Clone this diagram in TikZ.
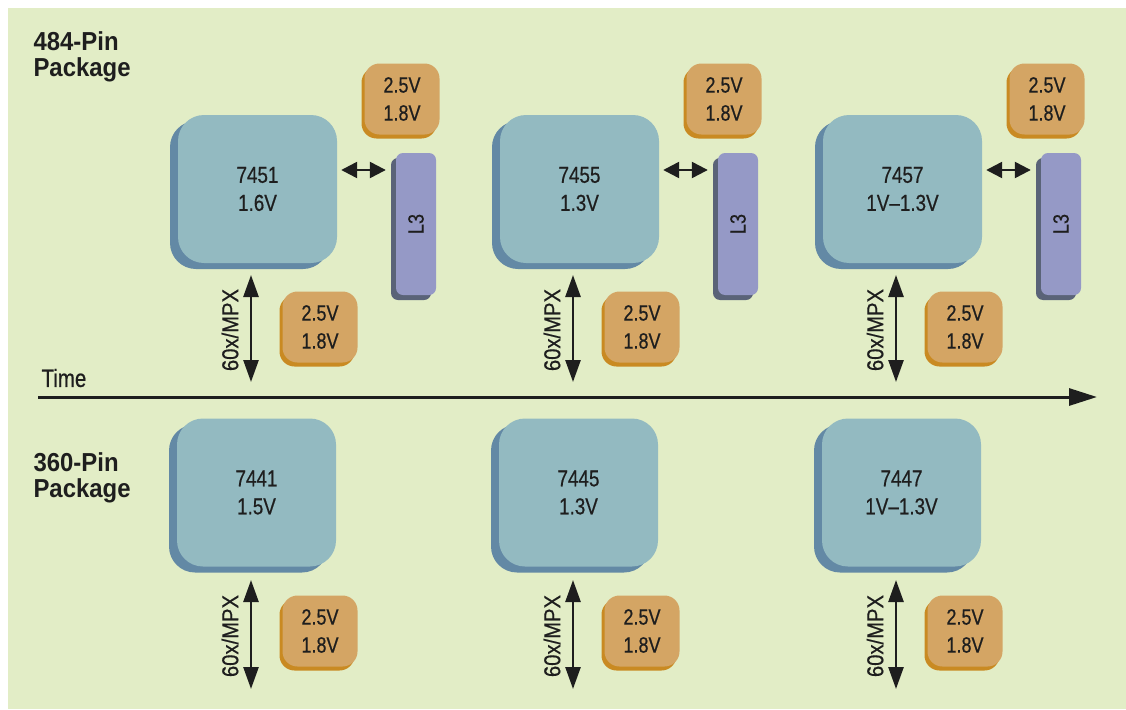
\documentclass[tikz,border=0pt]{standalone}
\usepackage{fontspec}
\setmainfont{Liberation Sans}[FakeStretch=0.82,FakeBold=0.5]
\newfontfamily\labelfont{Liberation Sans}[FakeStretch=0.92]
\newfontfamily\mpxfont{Liberation Sans}[FakeStretch=0.88,FakeBold=0.5]
\usetikzlibrary{arrows.meta,shadows}
\definecolor{bg}{HTML}{E2EDC6}
\definecolor{chipface}{HTML}{93BAC1}
\definecolor{chipshadow}{HTML}{6389A5}
\definecolor{volface}{HTML}{D4A564}
\definecolor{volshadow}{HTML}{C98A22}
\definecolor{lface}{HTML}{9599C6}
\definecolor{lshadow}{HTML}{5A6378}
\definecolor{ink}{HTML}{1E1E1E}
\begin{document}
\begin{tikzpicture}[x=1pt,y=-1pt,
  chip/.style={rectangle, rounded corners=26pt, fill=chipface,
    minimum width=159pt, minimum height=148pt, inner sep=0pt,
    align=center, text=ink, font=\fontsize{23}{28}\selectfont,
    general shadow={fill=chipshadow, shadow xshift=-8pt, shadow yshift=-6pt}},
  volt/.style={rectangle, rounded corners=15pt, fill=volface,
    minimum width=75pt, minimum height=71pt, inner sep=0pt,
    align=center, text=ink, font=\fontsize{22}{28}\selectfont,
    general shadow={fill=volshadow, shadow xshift=-3pt, shadow yshift=-4pt}},
  cache/.style={rectangle, rounded corners=7pt, fill=lface,
    minimum width=40pt, minimum height=142pt, inner sep=0pt,
    general shadow={fill=lshadow, shadow xshift=-5pt, shadow yshift=-5pt}},
  ltext/.style={rotate=90, text=ink, font=\fontsize{22}{24}\selectfont},
  varrow/.style={line width=2.6pt, draw=ink,
    {Triangle[width=15pt,length=22pt]}-{Triangle[width=15pt,length=22pt]}},
  harrow/.style={line width=2.4pt, draw=ink,
    {Triangle[width=16pt,length=16pt]}-{Triangle[width=16pt,length=16pt]}},
  taxis/.style={line width=3pt, draw=ink, -{Triangle[width=17pt,length=28pt]}},
  pkg/.style={anchor=west, align=left, text=ink,
    font=\labelfont\bfseries\fontsize{26}{26}\selectfont},
  mpx/.style={rotate=90, text=ink, font=\mpxfont\fontsize{23}{24}\selectfont},
]
\useasboundingbox (0,0) rectangle (1126,709);
\fill[bg] (8,8) rectangle (1126,709);

% package labels
\node[pkg] (p484) at (30,57) {484-Pin\\Package};
\node[pkg] (p360) at (30,478) {360-Pin\\Package};

% time axis
\coordinate (t0) at (38,397);
\coordinate (t1) at (1097,397);
\draw[taxis] (t0) -- (t1);
\node[text=ink, font=\fontsize{25}{26}\selectfont, anchor=west] (time) at (38,378) {Time};

\foreach \i/\dx/\topn/\topv/\botn/\botv in
  {1/0/7451/1.6V/7441/1.5V, 2/322/7455/1.3V/7445/1.3V, 3/645/7457/1V--1.3V/7447/1V--1.3V}{
  % top row
  \node[chip] (c\i) at (257.5+\dx,189) {\topn\\\topv};
  \node[cache] (l\i) at (416+\dx,224) {};
  \node[ltext] (lt\i) at (l\i) {L3};
  \node[volt] (vt\i) at (402+\dx,99) {2.5V\\1.8V};
  \node[volt] (vb\i) at (320+\dx,327) {2.5V\\1.8V};
  \draw[harrow] ([xshift=4pt,yshift=19pt]c\i.east) -- ([xshift=-10pt,yshift=19pt]c\i.east -| l\i.west);
  \coordinate (mt\i) at (251+\dx,275);
  \coordinate (mb\i) at (251+\dx,382);
  \draw[varrow] (mt\i) -- (mb\i);
  \node[mpx] (ml\i) at (230+\dx,330) {60x/MPX};
  % bottom row
  \node[chip] (d\i) at (256.5+\dx,492.5) {\botn\\\botv};
  \node[volt] (vd\i) at (320+\dx,631) {2.5V\\1.8V};
  \coordinate (nt\i) at (251+\dx,580);
  \coordinate (nb\i) at (251+\dx,689);
  \draw[varrow] (nt\i) -- (nb\i);
  \node[mpx] (nl\i) at (230+\dx,636) {60x/MPX};
}
\end{tikzpicture}
\end{document}
